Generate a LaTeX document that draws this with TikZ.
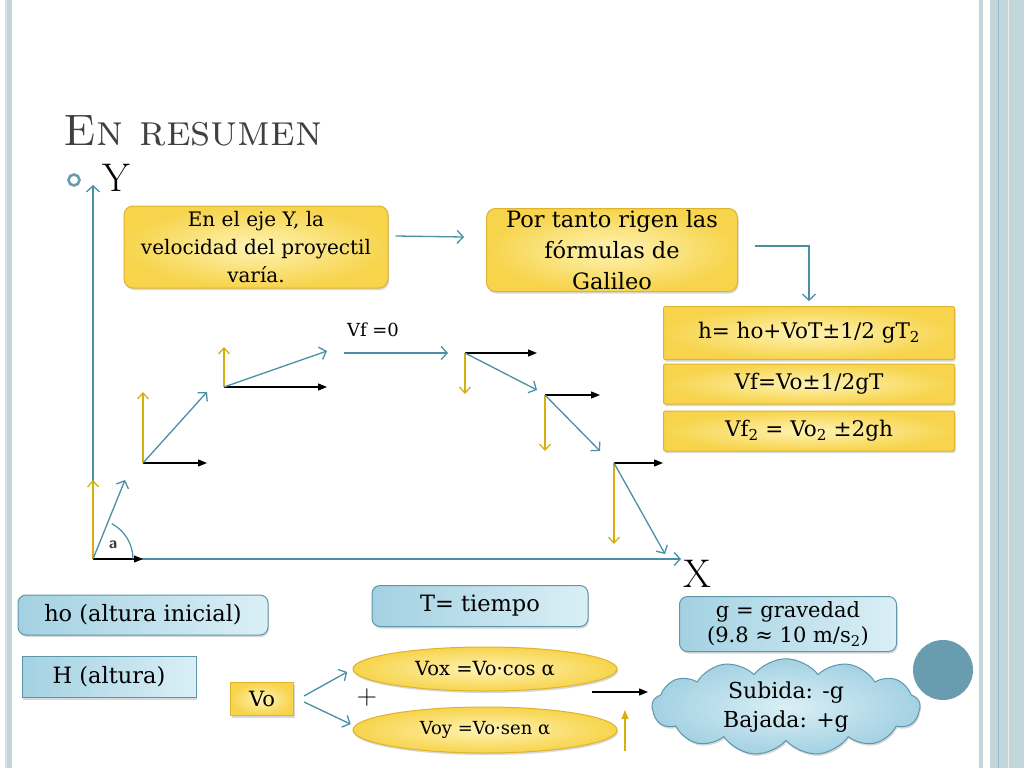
\documentclass[tikz,border=0pt]{standalone}
\usepackage{fontspec}
\newfontfamily\schoolfont{DejaVu Serif}
\usepackage{tikz}
\usetikzlibrary{arrows.meta}
\usetikzlibrary{shapes.geometric}
\usetikzlibrary{shapes.symbols}
\usetikzlibrary{shadows}
\definecolor{tealline}{HTML}{4A8FA6}
\definecolor{vecyellow}{HTML}{D9AE10}
\definecolor{boxgold}{HTML}{F7D44C}
\definecolor{boxpale}{HTML}{FEF3B4}
\definecolor{boxedge}{HTML}{E0B32C}
\definecolor{skyfill}{HTML}{A3D1E2}
\definecolor{skypale}{HTML}{DAEFF6}
\definecolor{skyedge}{HTML}{5E96AA}
\definecolor{framegray}{HTML}{C3D6DC}
\definecolor{titlegray}{HTML}{404040}
\definecolor{dotteal}{HTML}{6A9CAF}
\tikzset{
boxshadow/.style={drop shadow={opacity=0.3, shadow xshift=1pt, shadow yshift=-2pt}},
yellowbox/.style={draw=boxedge, line width=1pt, rounded corners=9pt, inner color=boxpale, outer color=boxgold, align=center, inner xsep=0pt, inner ysep=0pt, boxshadow},
formulabox/.style={draw=boxedge, line width=1pt, rounded corners=2pt, inner color=boxpale, outer color=boxgold, minimum width=291pt, inner sep=0pt, font=\schoolfont\fontsize{21.5}{26}\selectfont, boxshadow},
bluebox/.style={draw=skyedge, line width=1pt, left color=skyfill, right color=skypale, inner sep=0pt, font=\schoolfont\fontsize{22.5}{27}\selectfont, boxshadow},
yellowoval/.style={ellipse, draw=boxedge, line width=1pt, inner color=boxpale, outer color=boxgold, inner sep=0pt, boxshadow},
tealvec/.style={draw=tealline, line width=1.3pt, -{Straight Barb[length=6pt,width=13pt]}},
goldvec/.style={draw=vecyellow, line width=1.3pt, -{Straight Barb[length=6pt,width=11pt]}},
blackvec/.style={draw=black, line width=1.3pt, -{Triangle[length=9pt,width=7pt]}}
}

\begin{document}
\begin{tikzpicture}[x=1pt,y=-1pt]
    \useasboundingbox (0,0) rectangle (1024,768);
    \fill[white] (0,0) rectangle (1024,768);

                % marco
                \fill[framegray!70] (5,0) rectangle (7,768);
                \fill[framegray] (7,0) rectangle (12,768);
                \fill[framegray] (979,0) rectangle (983,768);
                \fill[framegray] (990,0) rectangle (1024,768);
                \draw[tealline!60, line width=1pt] (998,0) -- (998,768);
                \draw[framegray!80!black!20, line width=0.8pt] (1008,0) -- (1008,768);

                \node[anchor=base west, text=titlegray, font=\fontsize{44}{50}\selectfont\scshape] (titulo) at (60,145) {En resumen};
                \draw[dotteal, line width=2.6pt] (74,180) circle[radius=5.5pt];
                \node[font=\fontsize{40}{44}\selectfont] (ylab) at (116,178) {Y};
                \node[font=\fontsize{40}{44}\selectfont] (xlab) at (697,574) {X};

                \node[yellowbox, minimum width=264pt, minimum height=82pt, font=\schoolfont\fontsize{20}{28}\selectfont] (b1) at (256,247) {En el eje Y, la\\velocidad del proyectil\\varía.};
                \node[yellowbox, minimum width=251pt, minimum height=83pt, font=\schoolfont\fontsize{22.5}{31}\selectfont] (b2) at (612,250) {Por tanto rigen las\\fórmulas de\\Galileo};
                \node[formulabox, minimum height=53pt] (fA) at (809,333) {h= ho+VoT±1/2 gT\textsubscript{2}};
                \node[formulabox, minimum height=40pt] (fB) at (809,384) {Vf=Vo±1/2gT};
                \node[formulabox, minimum height=40pt] (fC) at (809,431) {Vf\textsubscript{2} = Vo\textsubscript{2} ±2gh};

                \draw[tealvec] ([xshift=7pt,yshift=11pt]b1.east) -- ([xshift=-22pt,yshift=13pt]b2.west);
                \draw[tealvec, shorten >=5pt] ([xshift=17pt,yshift=4pt]b2.east) -| (fA.north);

                % vectores
                \coordinate (O) at (93,559);
                \coordinate (Xend) at (681,559);
                \coordinate (Yend) at (93,185);
                \coordinate (Ox) at (143,559);
                \coordinate (Oy) at (93,480);
                \coordinate (Ov) at (125,480);
                \coordinate (P1) at (143,463);
                \coordinate (P1x) at (207,463);
                \coordinate (P1y) at (143,392);
                \coordinate (P1v) at (207,392);
                \coordinate (P2) at (224,387);
                \coordinate (P2x) at (327,387);
                \coordinate (P2y) at (224,347);
                \coordinate (P2v) at (327,351);
                \coordinate (T1) at (344,353);
                \coordinate (T2) at (448,353);
                \coordinate (P3) at (465,353);
                \coordinate (P3x) at (537,353);
                \coordinate (P3y) at (465,394);
                \coordinate (P3v) at (537,390);
                \coordinate (P4) at (545,395);
                \coordinate (P4x) at (600,395);
                \coordinate (P4y) at (545,451);
                \coordinate (P4v) at (600,451);
                \coordinate (P5) at (614,463);
                \coordinate (P5x) at (663,463);
                \coordinate (P5y) at (614,544);
                \coordinate (P5v) at (665,554);

                \draw[tealvec] (O) -- (Yend);
                \draw[tealvec] (O) -- (Xend);
                \draw[blackvec] (O) -- (Ox);
                \draw[goldvec] (O) -- (Oy);
                \draw[tealvec] (O) -- (Ov);
                \draw[tealline, line width=1.2pt] (O) ++(62:40pt) arc[start angle=62, end angle=0, radius=40pt];
                \node[font=\fontsize{16}{16}\selectfont\sffamily\bfseries, text=black!80] (alfa) at (113,545) {a};

                \draw[blackvec] (P1) -- (P1x);
                \draw[goldvec] (P1) -- (P1y);
                \draw[tealvec] (P1) -- (P1v);
                \draw[blackvec] (P2) -- (P2x);
                \draw[goldvec] (P2) -- (P2y);
                \draw[tealvec] (P2) -- (P2v);
                \draw[tealvec] (T1) -- (T2);
                \node[font=\schoolfont\fontsize{18}{20}\selectfont] (vf) at (373,330) {Vf =0};
                \draw[blackvec] (P3) -- (P3x);
                \draw[goldvec] (P3) -- (P3y);
                \draw[tealvec] (P3) -- (P3v);
                \draw[blackvec] (P4) -- (P4x);
                \draw[goldvec] (P4) -- (P4y);
                \draw[tealvec] (P4) -- (P4v);
                \draw[blackvec] (P5) -- (P5x);
                \draw[goldvec] (P5) -- (P5y);
                \draw[tealvec] (P5) -- (P5v);

                % abajo
                \node[bluebox, rounded corners=8pt, minimum width=250pt, minimum height=40pt] (ho) at (143,615) {ho (altura inicial)};
                \node[bluebox, minimum width=174pt, minimum height=41pt] (H) at (109,677) {H (altura)};
                \node[bluebox, rounded corners=8pt, minimum width=216pt, minimum height=41pt] (T) at (480,606) {T= tiempo};
                \node[bluebox, rounded corners=8pt, minimum width=217pt, minimum height=55pt, align=center, font=\schoolfont\fontsize{21}{25}\selectfont] (g) at (788,624) {g = gravedad\\(9.8 ≈ 10 m/s\textsubscript{2})};
                \node[formulabox, rounded corners=0pt, minimum width=63pt, minimum height=33pt, font=\schoolfont\fontsize{21}{26}\selectfont] (vo) at (262,699) {Vo};
                \node[yellowoval, minimum width=264pt, minimum height=44pt, font=\schoolfont\fontsize{19.5}{22}\selectfont] (vox) at (485,669) {Vox =Vo·cos α};
                \node[yellowoval, minimum width=264pt, minimum height=46pt, font=\schoolfont\fontsize{18}{20}\selectfont] (voy) at (485,730) {Voy =Vo·sen α};
                \node[font=\fontsize{28}{28}\selectfont] (mas) at (367,698) {+};
                \draw[tealvec, shorten >=6pt] ([xshift=10pt,yshift=3pt]vo.east) -- (vox.west);
                \draw[tealvec, shorten >=2pt] ([xshift=10pt,yshift=-3pt]vo.east) -- ([yshift=5pt]voy.west);

                \node[cloud, cloud puffs=13, cloud puff arc=105, aspect=3.2, draw=skyedge, line width=1pt, inner color=skypale, outer color=skyfill, minimum width=268pt, minimum height=88pt, inner sep=0pt, align=center, font=\schoolfont\fontsize{22}{29}\selectfont, boxshadow] (nube) at (786,707) {Subida: -g\\Bajada: +g};
                \coordinate (k1) at (592,692);
                \coordinate (k2) at (648,692);
                \draw[blackvec] (k1) -- (k2);
                \coordinate (u1) at (625,751);
                \coordinate (u2) at (625,710);
                \draw[goldvec, -{Triangle[length=9pt,width=7pt]}] (u1) -- (u2);
                \fill[dotteal] (943,670) circle[radius=30pt];

            \end{tikzpicture}
\end{document}
